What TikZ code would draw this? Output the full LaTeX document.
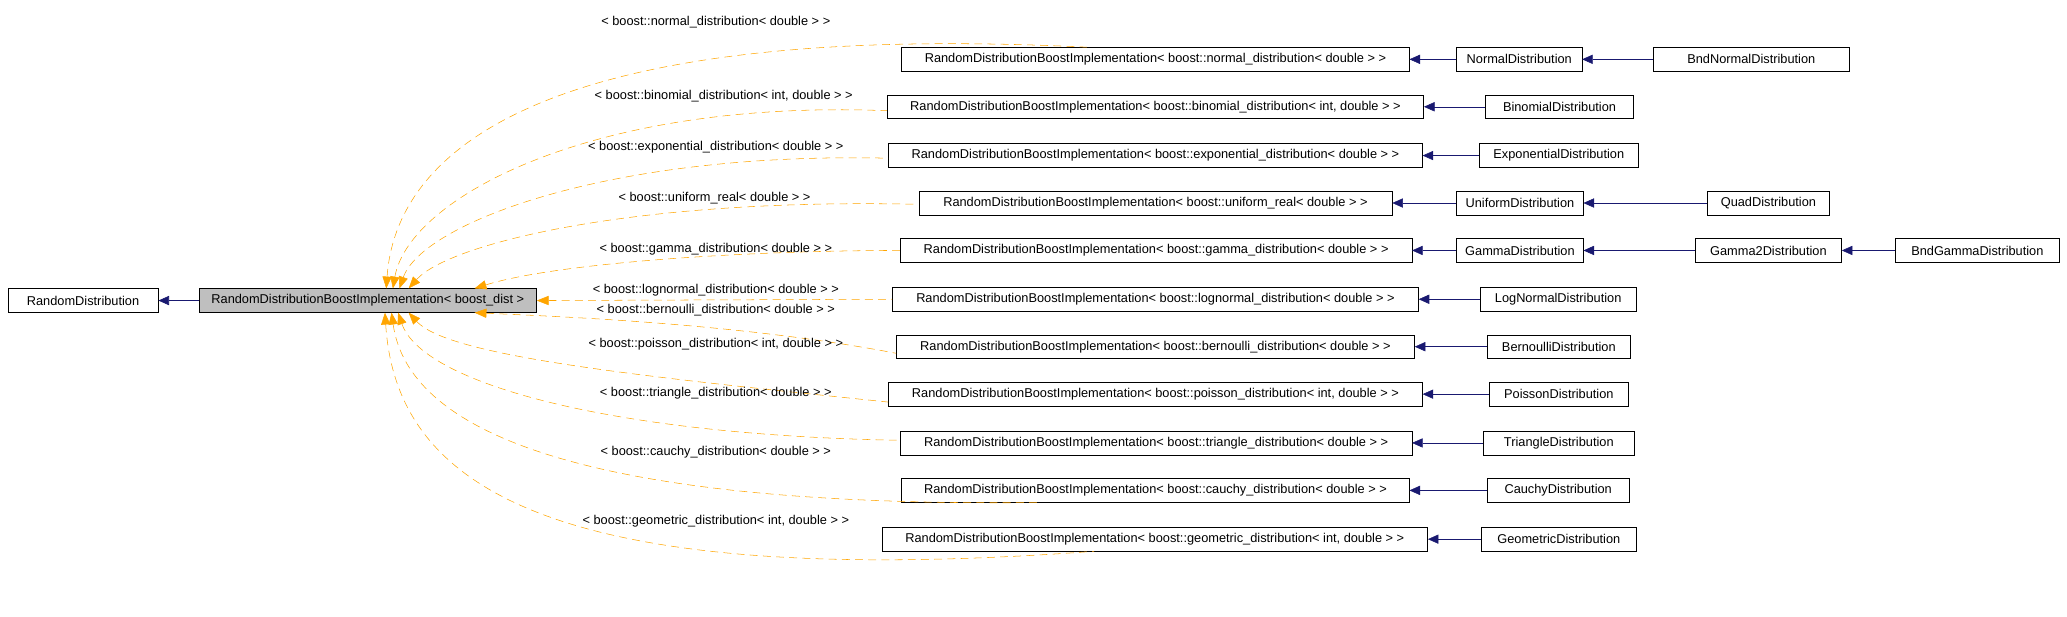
\documentclass[tikz,border=0pt]{standalone}
\usepackage{fontspec}
\setmainfont{Liberation Sans}
\usetikzlibrary{arrows.meta}
\definecolor{dorange}{RGB}{255,165,0}
\begin{document}
\begin{tikzpicture}[x=1pt,y=-1pt,
 box/.style={draw,inner sep=0pt,minimum height=18pt,font=\fontsize{9.7}{11}\selectfont,anchor=center},
 inh/.style={draw={rgb,255:red,25;green,25;blue,112},{Triangle[width=7pt,length=8pt]}-},
 dep/.style={draw=dorange,dash pattern=on 6pt off 4pt,{Triangle[width=7pt,length=9pt,fill=dorange]}-},
 lab/.style={font=\fontsize{9.7}{11}\selectfont}]
\useasboundingbox (0,0) rectangle (1568,468);
\node[box,minimum width=114pt] (rd) at (63,228) {RandomDistribution};
\node[box,minimum width=256pt,fill={rgb,255:red,191;green,191;blue,191}] (main) at (279,228) {RandomDistributionBoostImplementation< boost\_dist >};
\draw[inh] (rd) -- (main);
% middle
\node[box,minimum width=385pt] (m1) at (876.5,45) {RandomDistributionBoostImplementation< boost::normal\_distribution< double > >};
\node[box,minimum width=407pt] (m2) at (876.5,81) {RandomDistributionBoostImplementation< boost::binomial\_distribution< int, double > >};
\node[box,minimum width=405pt] (m3) at (876.5,118) {RandomDistributionBoostImplementation< boost::exponential\_distribution< double > >};
\node[box,minimum width=359pt] (m4) at (876.5,154) {RandomDistributionBoostImplementation< boost::uniform\_real< double > >};
\node[box,minimum width=388pt] (m5) at (877,190) {RandomDistributionBoostImplementation< boost::gamma\_distribution< double > >};
\node[box,minimum width=399pt] (m6) at (876.5,227) {RandomDistributionBoostImplementation< boost::lognormal\_distribution< double > >};
\node[box,minimum width=393pt] (m7) at (876.5,263) {RandomDistributionBoostImplementation< boost::bernoulli\_distribution< double > >};
\node[box,minimum width=405pt] (m8) at (876.5,299) {RandomDistributionBoostImplementation< boost::poisson\_distribution< int, double > >};
\node[box,minimum width=388pt] (m9) at (877,336) {RandomDistributionBoostImplementation< boost::triangle\_distribution< double > >};
\node[box,minimum width=385pt] (m10) at (876.5,372) {RandomDistributionBoostImplementation< boost::cauchy\_distribution< double > >};
\node[box,minimum width=414pt] (m11) at (876,409) {RandomDistributionBoostImplementation< boost::geometric\_distribution< int, double > >};
% right
\node[box,minimum width=95pt] (r1) at (1152.5,45) {NormalDistribution};
\node[box,minimum width=149pt] (r1b) at (1328.5,45) {BndNormalDistribution};
\node[box,minimum width=112pt] (r2) at (1183,81) {BinomialDistribution};
\node[box,minimum width=121pt] (r3) at (1182.5,118) {ExponentialDistribution};
\node[box,minimum width=96pt] (r4) at (1153,154) {UniformDistribution};
\node[box,minimum width=93pt] (r4b) at (1341.5,154) {QuadDistribution};
\node[box,minimum width=96pt] (r5) at (1153,190) {GammaDistribution};
\node[box,minimum width=111pt] (r5b) at (1341.5,190) {Gamma2Distribution};
\node[box,minimum width=124pt] (r5c) at (1500,190) {BndGammaDistribution};
\node[box,minimum width=118pt] (r6) at (1182,227) {LogNormalDistribution};
\node[box,minimum width=109pt] (r7) at (1182.5,263) {BernoulliDistribution};
\node[box,minimum width=105pt] (r8) at (1182.5,299) {PoissonDistribution};
\node[box,minimum width=115pt] (r9) at (1182.5,336) {TriangleDistribution};
\node[box,minimum width=108pt] (r10) at (1182,372) {CauchyDistribution};
\node[box,minimum width=117pt] (r11) at (1182.5,409) {GeometricDistribution};
\foreach \a/\b in {m1/r1,r1/r1b,m2/r2,m3/r3,m4/r4,r4/r4b,m5/r5,r5/r5b,r5b/r5c,m6/r6,m7/r7,m8/r8,m9/r9,m10/r10,m11/r11}
  \draw[inh] (\a) -- (\b);
% dependencies
\draw[dep] ([xshift=14pt]main.north) .. controls (300,120) and (400,15) .. ([xshift=-52pt]m1.north);
\draw[dep] ([xshift=19pt]main.north) .. controls (310,150) and (450,75) .. ([yshift=-3pt]m2.west);
\draw[dep] ([xshift=24pt]main.north) .. controls (320,170) and (460,115) .. ([yshift=-2pt]m3.west);
\draw[dep] ([xshift=31pt]main.north) .. controls (340,185) and (480,150) .. ([yshift=-1pt]m4.west);
\draw[dep] ([xshift=81pt]main.north) .. controls (420,200) and (560,190) .. (m5.west);
\draw[dep] (main.east) -- (m6.west);
\draw[dep] ([xshift=81pt]main.south) .. controls (420,240) and (560,245) .. ([yshift=-5pt]m7.west);
\draw[dep] ([xshift=31pt]main.south) .. controls (340,270) and (480,285) .. ([yshift=-6pt]m8.west);
\draw[dep] ([xshift=23pt]main.south) .. controls (320,290) and (460,330) .. ([yshift=2pt]m9.west);
\draw[dep] ([xshift=18pt]main.south) .. controls (310,330) and (450,385) .. ([xshift=-87pt]m10.south);
\draw[dep] ([xshift=13pt]main.south) .. controls (300,360) and (400,450) .. ([xshift=-46pt]m11.south);
% labels
\node[lab] (l1) at (543,17) {< boost::normal\_distribution< double > >};
\node[lab] (l2) at (549,73) {< boost::binomial\_distribution< int, double > >};
\node[lab] (l3) at (543,112) {< boost::exponential\_distribution< double > >};
\node[lab] (l4) at (542,150) {< boost::uniform\_real< double > >};
\node[lab] (l5) at (543,189) {< boost::gamma\_distribution< double > >};
\node[lab] (l6) at (543,220) {< boost::lognormal\_distribution< double > >};
\node[lab] (l7) at (543,235) {< boost::bernoulli\_distribution< double > >};
\node[lab] (l8) at (543,261) {< boost::poisson\_distribution< int, double > >};
\node[lab] (l9) at (543,298) {< boost::triangle\_distribution< double > >};
\node[lab] (l10) at (543,343) {< boost::cauchy\_distribution< double > >};
\node[lab] (l11) at (543,395) {< boost::geometric\_distribution< int, double > >};
\end{tikzpicture}
\end{document}
